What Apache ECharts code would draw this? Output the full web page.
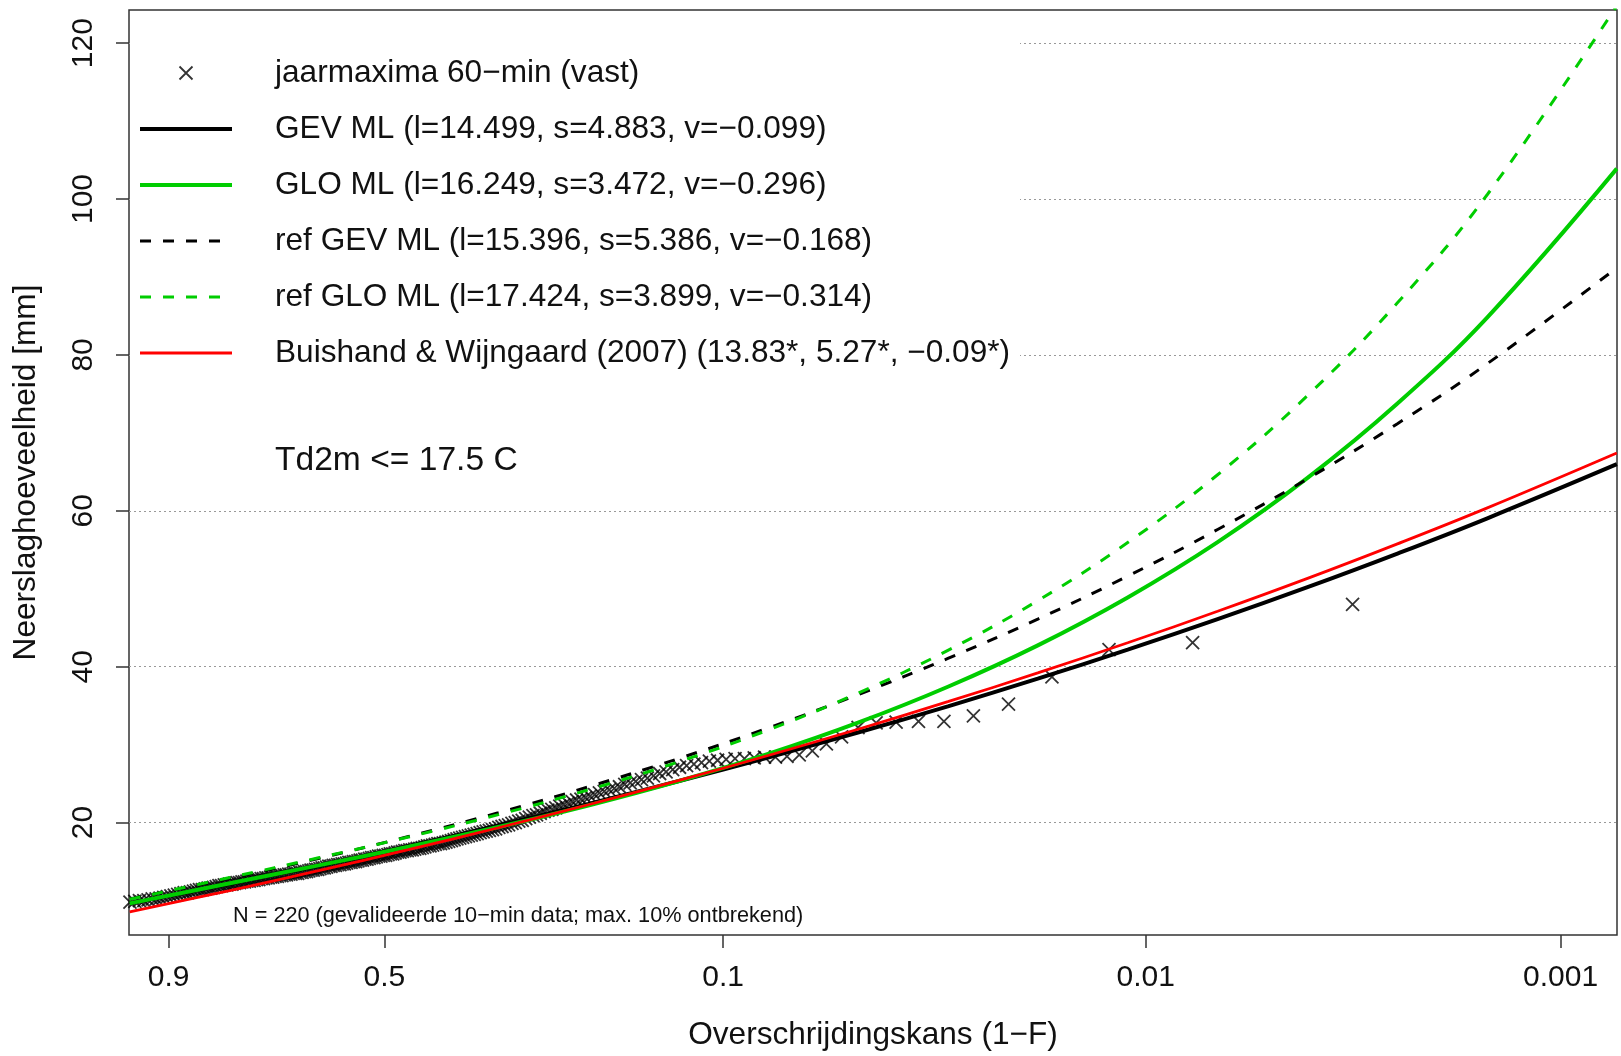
<!DOCTYPE html>
<html>
<head>
<meta charset="utf-8">
<script src="https://cdn.jsdelivr.net/npm/echarts@6/dist/echarts.min.js"></script>
<style>
html,body{margin:0;padding:0;background:#fff;}
#c{width:1621px;height:1056px;}
</style>
</head>
<body>
<div id="c"></div>
<script>
// ---------- data ----------
const N = 220; // number of annual maxima
// sorted annual maxima (mm), rank 1 = largest; only the ranks visible in the plot window
const obsValues = [
  48.0, 43.1, 42.2, 38.7, 35.2, 33.7, 33.0, 33.0, 32.9, 32.8,
  32.2, 31.0, 30.1, 29.2, 28.7, 28.5, 28.4, 28.4, 28.3, 28.2,
  28.2, 28.1, 28.0, 27.9, 27.7, 27.5, 27.3, 27.1, 26.8, 26.5,
  26.3, 26.0, 25.7, 25.5, 25.3, 25.1, 24.9, 24.6, 24.4, 24.2,
  24.0, 23.8, 23.6, 23.4, 23.2, 23.0, 22.9, 22.7, 22.5, 22.3,
  22.1, 21.9, 21.7, 21.6, 21.4, 21.2, 21.0, 20.9, 20.7, 20.5,
  20.3, 20.2, 20.0, 19.9, 19.7, 19.6, 19.5, 19.4, 19.2, 19.1,
  19.0, 18.9, 18.8, 18.7, 18.6, 18.5, 18.4, 18.3, 18.2, 18.1,
  18.0, 17.9, 17.8, 17.7, 17.6, 17.5, 17.4, 17.3, 17.3, 17.2,
  17.1, 17.0, 17.0, 16.9, 16.8, 16.7, 16.7, 16.6, 16.5, 16.5,
  16.4, 16.4, 16.3, 16.2, 16.2, 16.1, 16.0, 16.0, 15.9, 15.8,
  15.8, 15.7, 15.7, 15.6, 15.5, 15.5, 15.4, 15.3, 15.3, 15.2,
  15.2, 15.1, 15.0, 15.0, 14.9, 14.9, 14.8, 14.7, 14.7, 14.6,
  14.6, 14.5, 14.5, 14.4, 14.4, 14.3, 14.2, 14.2, 14.1, 14.0,
  14.0, 13.9, 13.9, 13.8, 13.7, 13.7, 13.6, 13.6, 13.5, 13.5,
  13.5, 13.4, 13.4, 13.3, 13.3, 13.2, 13.2, 13.1, 13.1, 13.0,
  13.0, 12.9, 12.9, 12.8, 12.8, 12.7, 12.7, 12.6, 12.6, 12.5,
  12.5, 12.4, 12.4, 12.3, 12.3, 12.2, 12.1, 12.1, 12.0, 12.0,
  11.9, 11.9, 11.8, 11.7, 11.6, 11.6, 11.5, 11.4, 11.4, 11.3,
  11.2, 11.1, 11.0, 11.0, 10.9, 10.8, 10.7, 10.6, 10.5, 10.4,
  10.3, 10.2, 10.2, 10.1, 10.0, 10.0, 9.9, 9.8
];
// Gumbel reduced variate at which the fitted curves are read
const gumbelX   = [-1.05, -0.5, 0, 0.5, 1, 1.5, 2, 2.5, 3, 3.5, 4, 4.5, 5, 5.5, 6, 6.5, 7.22];
const gevML     = [9.63, 12.12, 14.50, 17.00, 19.63, 22.40, 25.30, 28.35, 31.56, 34.92, 38.46, 42.18, 46.09, 50.20, 54.51, 59.04, 65.98];
const gloML     = [9.64, 12.19, 14.51, 16.90, 19.43, 22.20, 25.30, 28.81, 32.82, 37.43, 42.74, 48.89, 55.99, 64.23, 73.77, 84.83, 103.90];
const refGevML  = [10.21, 12.81, 15.40, 18.21, 21.26, 24.58, 28.20, 32.13, 36.41, 41.06, 46.11, 51.62, 57.60, 64.11, 71.18, 78.88, 91.17];
const refGloML  = [10.16, 12.92, 15.48, 18.15, 21.02, 24.20, 27.78, 31.88, 36.61, 42.10, 48.48, 55.93, 64.63, 74.79, 86.68, 100.58, 124.80];
const buishand  = [8.55, 11.25, 13.83, 16.53, 19.34, 22.29, 25.38, 28.61, 31.98, 35.51, 39.20, 43.07, 47.11, 51.33, 55.76, 60.38, 67.42];
const xTickProbs  = [0.9, 0.5, 0.1, 0.01, 0.001];
const xTickLabels = ['0.9', '0.5', '0.1', '0.01', '0.001'];
const yTicks = [20, 40, 60, 80, 100, 120];
const seriesNames = [
  'jaarmaxima 60\u2212min (vast)',
  'GEV ML (l=14.499, s=4.883, v=\u22120.099)',
  'GLO ML (l=16.249, s=3.472, v=\u22120.296)',
  'ref GEV ML (l=15.396, s=5.386, v=\u22120.168)',
  'ref GLO ML (l=17.424, s=3.899, v=\u22120.314)',
  'Buishand & Wijngaard (2007) (13.83*, 5.27*, \u22120.09*)'
];
const condText = 'Td2m <= 17.5 C';
const noteText = 'N = 220 (gevalideerde 10\u2212min data; max. 10% ontbrekend)';

// ---------- Gumbel probability axis transform ----------
const gumbel = p => -Math.log(-Math.log(1 - p));   // exceedance prob -> reduced variate
const xTickPos = xTickProbs.map(gumbel);
const obsData = obsValues.map((v, i) => [gumbel((i + 1 - 0.3) / (N + 0.4)), v]);
const curve = arr => gumbelX.map((x, i) => [x, arr[i]]);

const FONT = '"Liberation Sans", Arial, Helvetica, sans-serif';
const TXT = '#111';
const GREEN = '#00CD00';

const chart = echarts.init(document.getElementById('c'), null, {renderer: 'canvas'});
const lineBase = {type: 'line', symbol: 'none', showSymbol: false, smooth: 0.4, clip: true};

chart.setOption({
  animation: false,
  backgroundColor: '#fff',
  textStyle: {fontFamily: FONT},
  grid: {left: 129, right: 4, top: 10, bottom: 117, show: true, borderColor: '#333', borderWidth: 1.5, backgroundColor: 'transparent'},
  xAxis: {
    type: 'value', min: -1.054, max: 7.221,
    axisLine: {show: false, onZero: false}, splitLine: {show: false},
    axisTick: {show: true, length: 13, lineStyle: {color: '#333', width: 1.5}, customValues: xTickPos},
    axisLabel: {
      customValues: xTickPos, fontSize: 30, color: TXT, margin: 28, fontFamily: FONT,
      formatter: v => { let b = 0; xTickPos.forEach((t, i) => { if (Math.abs(t - v) < Math.abs(xTickPos[b] - v)) b = i; }); return xTickLabels[b]; }
    },
    name: 'Overschrijdingskans (1\u2212F)', nameLocation: 'middle', nameGap: 84,
    nameTextStyle: {fontSize: 31.6, color: TXT, fontFamily: FONT}
  },
  yAxis: {
    type: 'value', min: 5.58, max: 124.25,
    axisLine: {show: false, onZero: false},
    splitLine: {show: true, lineStyle: {color: '#999', type: [2, 3], width: 1.2}},
    axisTick: {show: true, length: 13, lineStyle: {color: '#333', width: 1.5}, customValues: yTicks},
    axisLabel: {customValues: yTicks, rotate: 90, fontSize: 30, color: TXT, margin: 30, fontFamily: FONT},
    name: 'Neerslaghoeveelheid [mm]', nameLocation: 'middle', nameGap: 87, nameRotate: 90,
    nameTextStyle: {fontSize: 31.6, color: TXT, fontFamily: FONT}
  },
  legend: {
    orient: 'vertical', left: 133, top: 52, itemWidth: 92, itemHeight: 13, itemGap: 24,
    selectedMode: false,
    textStyle: {fontSize: 31.6, color: TXT, lineHeight: 32, padding: [0, 0, 0, 38], fontFamily: FONT},
    lineStyle: {width: 'inherit'},
    itemStyle: {borderWidth: 'inherit'},
    data: seriesNames.map((n, i) => i === 0 ? {name: n} : {name: n, itemStyle: {opacity: 0}})
  },
  graphic: [
    {type: 'rect', z: 1, silent: true, shape: {x: 130, y: 11, width: 890, height: 480}, style: {fill: '#fff'}},
    {type: 'text', z: 5, left: 275, top: 444, style: {text: condText, fontSize: 33.6, fill: TXT, fontFamily: FONT}},
    {type: 'text', z: 5, left: 233, top: 905, style: {text: noteText, fontSize: 21.7, fill: TXT, fontFamily: FONT}}
  ],
  series: [
    {
      type: 'scatter', name: seriesNames[0], data: obsData, clip: true,
      symbol: 'path://M0,0L10,10M10,0L0,10', symbolSize: 13,
      itemStyle: {color: 'transparent', borderColor: '#000', borderWidth: 1.8}
    },
    Object.assign({}, lineBase, {name: seriesNames[1], data: curve(gevML), lineStyle: {color: '#000', width: 4}, itemStyle: {color: '#000'}}),
    Object.assign({}, lineBase, {name: seriesNames[2], data: curve(gloML), lineStyle: {color: GREEN, width: 4}, itemStyle: {color: GREEN}}),
    Object.assign({}, lineBase, {name: seriesNames[3], data: curve(refGevML), lineStyle: {color: '#000', width: 3, type: [11, 12]}, itemStyle: {color: '#000'}}),
    Object.assign({}, lineBase, {name: seriesNames[4], data: curve(refGloML), lineStyle: {color: GREEN, width: 3, type: [11, 12]}, itemStyle: {color: GREEN}}),
    Object.assign({}, lineBase, {name: seriesNames[5], data: curve(buishand), lineStyle: {color: '#FF0000', width: 2.8}, itemStyle: {color: '#FF0000'}})
  ]
});
</script>
</body>
</html>
